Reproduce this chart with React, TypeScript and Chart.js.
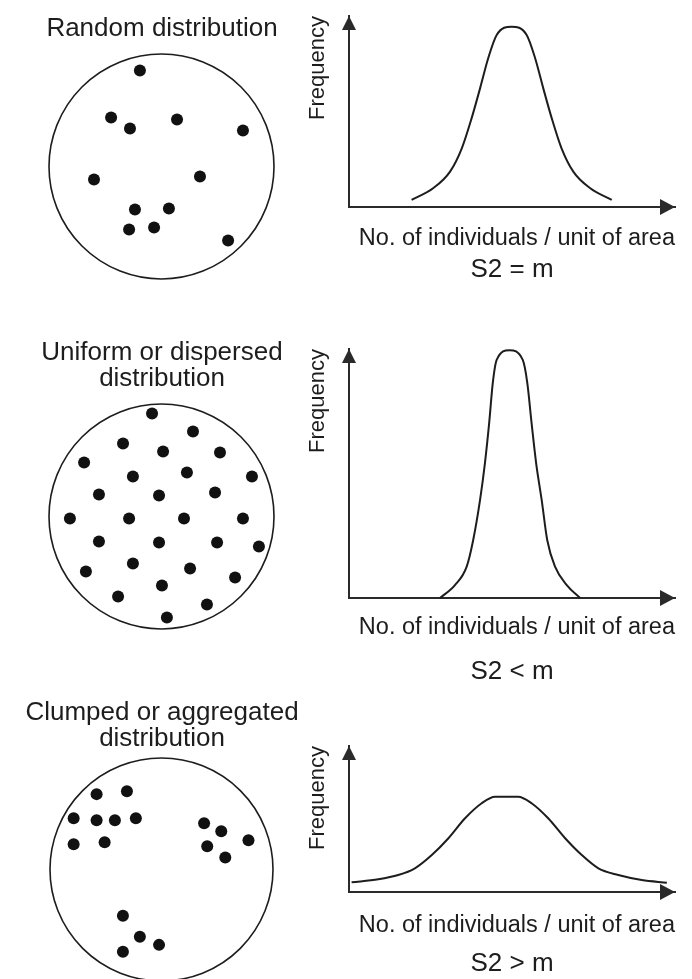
import React, { useEffect, useRef } from "react";
import { Chart, registerables } from "chart.js";

Chart.register(...registerables);

// ---------- text ----------
const panelTitles: string[][] = [
  ["Random distribution"],
  ["Uniform or dispersed", "distribution"],
  ["Clumped or aggregated", "distribution"],
];
const varianceLabels = ["S2 = m", "S2 < m", "S2 > m"];
const yAxisLabel = "Frequency";
const xAxisLabel = "No. of individuals / unit of area";

// ---------- dots inside the sampling circle (0..100 units, circle centre 50,50 radius 50) ----------
const randomDotsX = [40.4, 27.6, 36.0, 56.9, 86.2, 20.0, 67.1, 38.2, 53.3, 35.6, 46.7, 79.6];
const randomDotsY = [92.7, 71.8, 66.9, 70.9, 66.0, 44.2, 45.6, 30.9, 31.3, 22.0, 22.9, 17.1];

const uniformDotsX = [45.8, 64.0, 32.9, 50.7, 76.0, 15.6, 37.3, 61.3, 90.2, 22.2, 48.9, 73.8, 9.3, 35.6, 60.0, 86.2, 22.2, 48.9, 74.7, 93.3, 16.4, 37.3, 62.7, 82.7, 50.2, 30.7, 70.2, 52.4];
const uniformDotsY = [95.8, 87.8, 82.4, 78.9, 78.4, 74.0, 67.8, 69.6, 67.8, 59.8, 59.3, 60.7, 49.1, 49.1, 49.1, 49.1, 38.9, 38.4, 38.4, 36.7, 25.6, 29.1, 26.9, 22.9, 19.3, 14.4, 10.9, 5.1];

const clumpedDotsX = [20.9, 34.5, 10.6, 20.9, 29.1, 38.5, 10.6, 24.5, 69.1, 76.8, 89.0, 70.5, 78.6, 32.7, 40.3, 48.9, 32.7];
const clumpedDotsY = [83.8, 85.1, 73.0, 72.1, 72.1, 73.0, 61.3, 62.2, 70.7, 67.1, 63.1, 60.4, 55.4, 29.3, 19.8, 16.2, 13.1];

// ---------- frequency curves (0..100 units on both axes) ----------
const randomCurveX = [19.2, 25.8, 31.0, 34.6, 37.6, 40.2, 42.7, 45.3, 49.9, 54.5, 57.1, 59.6, 62.2, 65.2, 68.8, 74.0, 80.6];
const randomCurveY = [3.7, 9.8, 18.5, 30.7, 46.4, 62.1, 77.9, 90.1, 94.4, 90.1, 77.9, 62.1, 46.4, 30.7, 18.5, 9.8, 3.7];

const uniformCurveX = [27.9, 32.5, 36.1, 38.1, 40.2, 41.7, 43.0, 44.1, 45.3, 49.2, 53.3, 54.7, 56.0, 57.4, 59.1, 60.8, 63.2, 66.8, 70.9];
const uniformCurveY = [0, 5.2, 12.6, 23.3, 39.4, 54.2, 70.3, 86.3, 95.6, 99.5, 95.6, 86.3, 70.3, 54.2, 39.4, 23.3, 12.6, 5.2, 0];

const clumpedCurveX = [0.8, 9.0, 15.1, 20.2, 25.4, 30.5, 35.6, 40.7, 44.8, 51.9, 56.0, 61.1, 66.3, 71.4, 76.5, 82.6, 89.8, 97.5];
const clumpedCurveY = [6.6, 8.7, 11.6, 16.2, 25.3, 36.8, 50.5, 60.8, 65.3, 65.3, 60.8, 50.5, 36.8, 25.3, 16.2, 11.6, 8.2, 6.4];

// ---------- styles ----------
const FONT = "'Liberation Sans', Arial, Helvetica, sans-serif";
const INK = "#1d1d1d";
const AXIS = "#2a2a2a";

const zip = (xs: number[], ys: number[]) => xs.map((x, i) => ({ x, y: ys[i] }));

const circlePlugin = {
  id: "samplingCircle",
  beforeDatasetsDraw(chart: any) {
    const { ctx, scales } = chart;
    const cx = scales.x.getPixelForValue(50);
    const cy = scales.y.getPixelForValue(50);
    const r = scales.x.getPixelForValue(100) - cx;
    ctx.save();
    ctx.beginPath();
    ctx.arc(cx, cy, r, 0, Math.PI * 2);
    ctx.lineWidth = 1.6;
    ctx.strokeStyle = INK;
    ctx.stroke();
    ctx.restore();
  },
};

const arrowPlugin = {
  id: "axisArrows",
  afterDraw(chart: any) {
    const { ctx, chartArea } = chart;
    const { left, right, top, bottom } = chartArea;
    ctx.save();
    ctx.fillStyle = AXIS;
    ctx.beginPath();
    ctx.moveTo(left, top);
    ctx.lineTo(left - 7, top + 14);
    ctx.lineTo(left + 7, top + 14);
    ctx.closePath();
    ctx.fill();
    ctx.beginPath();
    ctx.moveTo(right, bottom);
    ctx.lineTo(right - 15, bottom - 8);
    ctx.lineTo(right - 15, bottom + 8);
    ctx.closePath();
    ctx.fill();
    ctx.restore();
  },
};

type Box = { left: number; top: number; width: number; height: number };

function ChartBox({ box, build }: { box: Box; build: () => any }) {
  const ref = useRef<HTMLCanvasElement>(null);
  useEffect(() => {
    const chart = new Chart(ref.current as HTMLCanvasElement, build());
    return () => chart.destroy();
  }, []);
  return (
    <canvas
      ref={ref}
      width={box.width}
      height={box.height}
      style={{ position: "absolute", left: box.left, top: box.top, width: box.width, height: box.height }}
    />
  );
}

// layout of the three circle panels
const circleBoxes: Box[] = [
  { left: 0, top: 0, width: 324, height: 285 },
  { left: 0, top: 325, width: 324, height: 310 },
  { left: 0, top: 684, width: 324, height: 303 },
];
const circlePads = [
  { side: [49, 50], titlePad: { top: 16, bottom: 12 } },
  { side: [49, 50], titlePad: { top: 15, bottom: 12 } },
  { side: [50, 51], titlePad: { top: 16, bottom: 6 } },
];

// layout of the three frequency panels
const curveBoxes: Box[] = [
  { left: 300, top: 6, width: 392, height: 281 },
  { left: 300, top: 339, width: 392, height: 350 },
  { left: 300, top: 736, width: 392, height: 245 },
];
const curvePads = [
  { xTitle: 18, title: 2 },
  { xTitle: 16, title: 15 },
  { xTitle: 20, title: 9 },
];

const dotSets = [
  zip(randomDotsX, randomDotsY),
  zip(uniformDotsX, uniformDotsY),
  zip(clumpedDotsX, clumpedDotsY),
];
const curveSets = [
  zip(randomCurveX, randomCurveY),
  zip(uniformCurveX, uniformCurveY),
  zip(clumpedCurveX, clumpedCurveY),
];

function spacerAxis(position: string, width: number) {
  return {
    type: "linear",
    position,
    min: 0,
    max: 100,
    display: true,
    ticks: { display: false },
    grid: { display: false, drawTicks: false },
    border: { display: false },
    afterFit: (scale: any) => {
      scale.width = width;
    },
  };
}

function scatterConfig(i: number) {
  return {
    type: "scatter",
    data: {
      datasets: [
        {
          data: dotSets[i],
          pointRadius: 6,
          pointHoverRadius: 6,
          pointBorderWidth: 0,
          pointBackgroundColor: "#111",
          backgroundColor: "#111",
          clip: false,
          yAxisID: "y",
        },
      ],
    },
    options: {
      responsive: false,
      animation: false,
      events: [],
      layout: { padding: { left: 0, right: 0, top: 0, bottom: 6 } },
      scales: {
        x: { type: "linear", min: 0, max: 100, display: false },
        y: spacerAxis("left", circlePads[i].side[0]),
        y2: spacerAxis("right", circlePads[i].side[1]),
      },
      plugins: {
        legend: { display: false },
        tooltip: { enabled: false },
        title: {
          display: true,
          text: panelTitles[i],
          color: INK,
          font: { family: FONT, size: 26, weight: "normal", lineHeight: "26px" },
          padding: circlePads[i].titlePad,
        },
      },
    },
    plugins: [circlePlugin],
  };
}

function curveConfig(i: number) {
  return {
    type: "line",
    data: {
      datasets: [
        {
          data: curveSets[i],
          borderColor: INK,
          borderWidth: 2,
          pointRadius: 0,
          fill: false,
          tension: 0.4,
          cubicInterpolationMode: "monotone",
          clip: false,
        },
      ],
    },
    options: {
      responsive: false,
      animation: false,
      events: [],
      layout: { padding: { left: 5, right: 17, top: 10, bottom: 2 } },
      scales: {
        x: {
          type: "linear",
          min: 0,
          max: 100,
          ticks: { display: false },
          grid: { display: false, drawTicks: false },
          border: { display: true, color: AXIS, width: 2 },
          title: {
            display: true,
            text: xAxisLabel,
            align: "end",
            color: INK,
            font: { family: FONT, size: 23.5, weight: "normal", lineHeight: "28px" },
            padding: { top: curvePads[i].xTitle, bottom: 0 },
          },
        },
        y: {
          type: "linear",
          min: 0,
          max: 100,
          ticks: { display: false },
          grid: { display: false, drawTicks: false },
          border: { display: true, color: AXIS, width: 2 },
          title: {
            display: true,
            text: yAxisLabel,
            align: "end",
            color: INK,
            font: { family: FONT, size: 22, weight: "normal", lineHeight: "26px" },
            padding: { top: 0, bottom: 18 },
          },
        },
      },
      plugins: {
        legend: { display: false },
        tooltip: { enabled: false },
        title: {
          display: true,
          position: "bottom",
          fullSize: false,
          text: varianceLabels[i],
          color: INK,
          font: { family: FONT, size: 26, weight: "normal", lineHeight: "30px" },
          padding: { top: curvePads[i].title, bottom: 0 },
        },
      },
    },
    plugins: [arrowPlugin],
  };
}

export default function App() {
  return (
    <div
      style={{
        position: "absolute",
        left: 0,
        top: 0,
        width: 692,
        height: 979,
        overflow: "hidden",
        background: "#fff",
      }}
    >
      {[0, 1, 2].map((i) => (
        <React.Fragment key={i}>
          <ChartBox box={circleBoxes[i]} build={() => scatterConfig(i)} />
          <ChartBox box={curveBoxes[i]} build={() => curveConfig(i)} />
        </React.Fragment>
      ))}
    </div>
  );
}
